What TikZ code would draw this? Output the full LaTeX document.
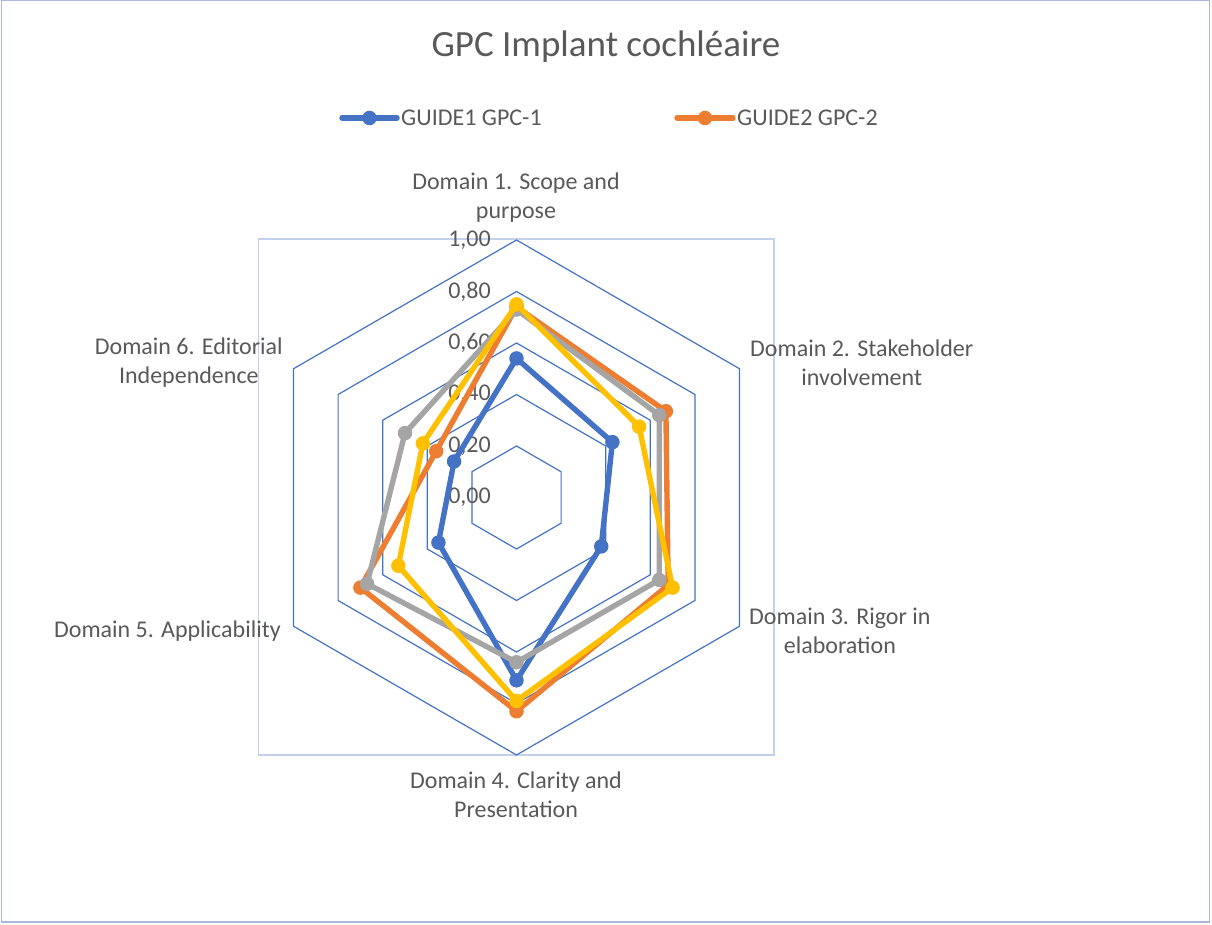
\documentclass[tikz,border=0pt]{standalone}
\usepackage{fontspec}
\setmainfont{Carlito}
\usetikzlibrary{calc}
\definecolor{sblue}{HTML}{4472C4}
\definecolor{sorange}{HTML}{ED7D31}
\definecolor{sgray}{HTML}{A5A5A5}
\definecolor{syellow}{HTML}{FFC000}
\definecolor{txt}{HTML}{595959}
\definecolor{frame}{HTML}{A9B8DD}
\definecolor{pframe}{HTML}{C3D1EC}
\begin{document}
\begin{tikzpicture}[x=1pt,y=1pt,
  outerframe/.style={draw=frame,line width=1.5},
  plotframe/.style={draw=pframe,line width=1.3},
  gridline/.style={draw=sblue,line width=1.2},
  series/.style={line width=5.4,line join=round,line cap=round},
  marker/.style={circle,inner sep=0pt,minimum size=14.5,draw=none},
  catlabel/.style={text=txt,font=\fontsize{24}{29}\selectfont,align=center,inner sep=0pt},
  ticklabel/.style={text=txt,font=\fontsize{24}{28}\selectfont,anchor=east,inner sep=0pt},
  legtext/.style={text=txt,font=\fontsize{24}{28}\selectfont,anchor=west,inner sep=0pt}]
\useasboundingbox (0,0) rectangle (1212,925);
\draw[outerframe] (1.5,3) rectangle (1209.5,924.3);
\node[text=txt,font=\fontsize{37}{42}\selectfont,inner sep=0pt] (title) at (606,878) {GPC Implant cochléaire};
% legend
\coordinate (la) at (342,807);
\coordinate (lb) at (397,807);
\coordinate (lc) at (677,807);
\coordinate (ld) at (733,807);
\draw[series,sblue] (la) -- (lb);
\node[marker,fill=sblue] (lm1) at ($(la)!0.5!(lb)$) {};
\node[legtext] (lt1) at (401,807) {GUIDE1 GPC-1};
\draw[series,sorange] (lc) -- (ld);
\node[marker,fill=sorange] (lm2) at ($(lc)!0.5!(ld)$) {};
\node[legtext] (lt2) at (737,807) {GUIDE2 GPC-2};
% plot area
\draw[plotframe] (258.5,170) rectangle (774,686);
\begin{scope}[shift={(516.5,427.5)}]
\coordinate (O) at (0,0);
\foreach \L in {0.2,0.4,0.6,0.8,1.0}{
  \draw[gridline] (90:{\L*257.5}) -- (30:{\L*257.5}) -- (-30:{\L*257.5}) -- (-90:{\L*257.5}) -- (-150:{\L*257.5}) -- (150:{\L*257.5}) -- cycle;
}
\node[ticklabel] (tick0) at (-25.5,0) {0,00};
\node[ticklabel] (tick20) at (-25.5,51.5) {0,20};
\node[ticklabel] (tick40) at (-25.5,103) {0,40};
\node[ticklabel] (tick60) at (-25.5,154.5) {0,60};
\node[ticklabel] (tick80) at (-25.5,206) {0,80};
\node[ticklabel] (tick100) at (-25.5,257.5) {1,00};
\foreach \s/\col/\a/\b/\c/\d/\e/\f in {
  b/sblue/0.54/0.43/0.38/0.71/0.35/0.28,
  o/sorange/0.74/0.67/0.68/0.83/0.70/0.36,
  g/sgray/0.73/0.64/0.64/0.64/0.67/0.50,
  y/syellow/0.75/0.55/0.70/0.79/0.53/0.42}{
  \coordinate (\s1) at (90:{\a*257.5});
  \coordinate (\s2) at (30:{\b*257.5});
  \coordinate (\s3) at (-30:{\c*257.5});
  \coordinate (\s4) at (-90:{\d*257.5});
  \coordinate (\s5) at (-150:{\e*257.5});
  \coordinate (\s6) at (150:{\f*257.5});
  \draw[series,\col] (\s1) -- (\s2) -- (\s3) -- (\s4) -- (\s5) -- (\s6) -- cycle;
  \foreach \i in {1,...,6}{\node[marker,fill=\col] (m\s\i) at (\s\i) {};}
}
\end{scope}
% category labels
\node[catlabel] (c1) at (516,727.5) {Domain 1. Scope and\\purpose};
\node[catlabel,anchor=west] (c2) at (750,562.5) {Domain 2. Stakeholder\\involvement};
\node[catlabel,anchor=west] (c3) at (749,294) {Domain 3. Rigor in\\elaboration};
\node[catlabel] (c4) at (516,130.5) {Domain 4. Clarity and\\Presentation};
\node[catlabel,anchor=east] (c5) at (281,294) {Domain 5. Applicability};
\node[catlabel,anchor=east] (c6) at (283,562.5) {Domain 6. Editorial\\Independence};
\end{tikzpicture}
\end{document}
